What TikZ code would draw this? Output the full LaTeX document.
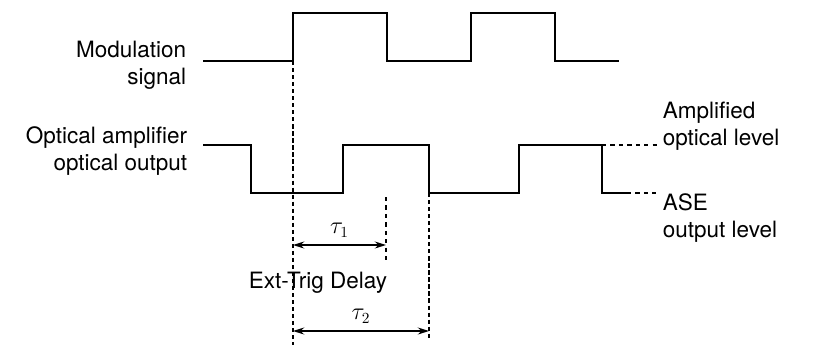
\documentclass[tikz,border=0pt]{standalone}
\usepackage{fontspec}
\setmainfont{TeX Gyre Heros}
\usetikzlibrary{arrows.meta}

\begin{document}
\begin{tikzpicture}[x=0.025cm, y=-0.025cm, >={Stealth[length=8pt,width=5pt]}, line width=1.1pt,
		lbl/.style={font=\fontsize{16}{19.5}\selectfont, inner sep=0pt},
		guide/.style={line width=0.8pt, densely dashed}]
		\useasboundingbox (0,0) rectangle (822,345);
		\def\mhi{13}\def\mlo{61}\def\ohi{145}\def\olo{193}
		% labels
		\node[lbl, anchor=east, align=right] (mod) at (187,65) {Modulation\\signal};
		\node[lbl, anchor=east, align=right] (oout) at (188,151) {Optical amplifier\\optical output};
		\node[lbl, anchor=west, align=left] (amp) at (662,126) {Amplified\\optical level};
		\node[lbl, anchor=west, align=left] (ase) at (662,218) {ASE\\output level};
		% modulation signal
		\draw (203,\mlo) -- (293,\mlo) -- (293,\mhi) -- (387,\mhi) -- (387,\mlo) -- (471,\mlo)
			-- (471,\mhi) -- (555,\mhi) -- (555,\mlo) -- (619,\mlo);
		% optical output
		\draw (203,\ohi) -- (251,\ohi) -- (251,\olo) -- (343,\olo) -- (343,\ohi) -- (429,\ohi)
			-- (429,\olo) -- (519,\olo) -- (519,\ohi) -- (602,\ohi) -- (602,\olo) -- (627,\olo);
		\draw[dashed, line width=0.8pt] (602,\ohi) -- (657,\ohi);
		\draw[dashed, line width=0.8pt] (627,\olo) -- (656,\olo);
		% timing guides
		\draw[guide] (293,\mlo) -- (293,345);
		\draw[dashed, line width=0.8pt] (386,197) -- (386,260);
		\draw[guide] (429,\olo) -- (429,340);
		% delays
		\coordinate (s1) at (293,245); \coordinate (e1) at (386,245);
		\coordinate (s2) at (293,331); \coordinate (e2) at (429,331);
		\draw[<->, line width=0.9pt] (s1) -- node[lbl, above=5pt] (tau1) {$\tau_1$} (e1);
		\draw[<->, line width=0.9pt] (s2) -- node[lbl, above=5pt] (tau2) {$\tau_2$} (e2);
		\node[lbl] (etd) at (318,283) {Ext-Trig Delay};
	\end{tikzpicture}
\end{document}
